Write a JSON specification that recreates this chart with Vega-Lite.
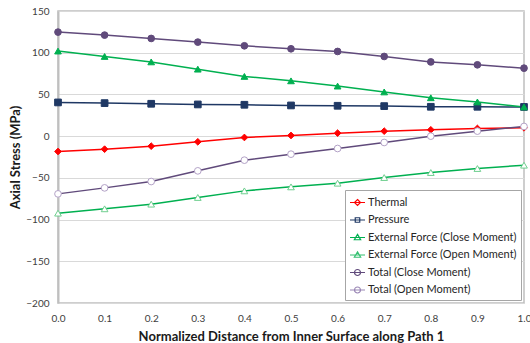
{
  "$schema": "https://vega.github.io/schema/vega-lite/v6.json",
  "width": 466,
  "height": 292,
  "autosize": {"type": "none"},
  "padding": {"left": 58, "top": 11, "right": 6, "bottom": 40},
  "background": "white",
  "config": {
    "font": "Lato",
    "view": {"stroke": "#BFBFBF", "strokeWidth": 1.5},
    "axis": {"labelFont": "Lato", "titleFont": "Lato", "labelColor": "#404040", "titleColor": "#1a1a1a"}
  },
  "data": {
    "values": [
      {"x": 0.0, "series": "Thermal", "y": -18.4},
      {"x": 0.1, "series": "Thermal", "y": -15.6},
      {"x": 0.2, "series": "Thermal", "y": -12.0},
      {"x": 0.3, "series": "Thermal", "y": -6.8},
      {"x": 0.4, "series": "Thermal", "y": -1.6},
      {"x": 0.5, "series": "Thermal", "y": 0.8},
      {"x": 0.6, "series": "Thermal", "y": 3.6},
      {"x": 0.7, "series": "Thermal", "y": 6.0},
      {"x": 0.8, "series": "Thermal", "y": 7.6},
      {"x": 0.9, "series": "Thermal", "y": 9.2},
      {"x": 1.0, "series": "Thermal", "y": 10.0},
      {"x": 0.0, "series": "Pressure", "y": 40.4},
      {"x": 0.1, "series": "Pressure", "y": 39.6},
      {"x": 0.2, "series": "Pressure", "y": 38.8},
      {"x": 0.3, "series": "Pressure", "y": 38.0},
      {"x": 0.4, "series": "Pressure", "y": 37.6},
      {"x": 0.5, "series": "Pressure", "y": 36.8},
      {"x": 0.6, "series": "Pressure", "y": 36.4},
      {"x": 0.7, "series": "Pressure", "y": 36.0},
      {"x": 0.8, "series": "Pressure", "y": 35.2},
      {"x": 0.9, "series": "Pressure", "y": 35.2},
      {"x": 1.0, "series": "Pressure", "y": 35.0},
      {"x": 0.0, "series": "External Force (Close Moment)", "y": 102.0},
      {"x": 0.1, "series": "External Force (Close Moment)", "y": 95.5},
      {"x": 0.2, "series": "External Force (Close Moment)", "y": 89.0},
      {"x": 0.3, "series": "External Force (Close Moment)", "y": 80.3},
      {"x": 0.4, "series": "External Force (Close Moment)", "y": 71.6},
      {"x": 0.5, "series": "External Force (Close Moment)", "y": 66.3},
      {"x": 0.6, "series": "External Force (Close Moment)", "y": 60.0},
      {"x": 0.7, "series": "External Force (Close Moment)", "y": 53.0},
      {"x": 0.8, "series": "External Force (Close Moment)", "y": 46.0},
      {"x": 0.9, "series": "External Force (Close Moment)", "y": 41.0},
      {"x": 1.0, "series": "External Force (Close Moment)", "y": 35.0},
      {"x": 0.0, "series": "External Force (Open Moment)", "y": -92.3},
      {"x": 0.1, "series": "External Force (Open Moment)", "y": -87.1},
      {"x": 0.2, "series": "External Force (Open Moment)", "y": -81.5},
      {"x": 0.3, "series": "External Force (Open Moment)", "y": -73.5},
      {"x": 0.4, "series": "External Force (Open Moment)", "y": -65.6},
      {"x": 0.5, "series": "External Force (Open Moment)", "y": -60.8},
      {"x": 0.6, "series": "External Force (Open Moment)", "y": -56.4},
      {"x": 0.7, "series": "External Force (Open Moment)", "y": -49.6},
      {"x": 0.8, "series": "External Force (Open Moment)", "y": -43.6},
      {"x": 0.9, "series": "External Force (Open Moment)", "y": -38.8},
      {"x": 1.0, "series": "External Force (Open Moment)", "y": -34.8},
      {"x": 0.0, "series": "Total (Close Moment)", "y": 124.7},
      {"x": 0.1, "series": "Total (Close Moment)", "y": 121.1},
      {"x": 0.2, "series": "Total (Close Moment)", "y": 117.1},
      {"x": 0.3, "series": "Total (Close Moment)", "y": 112.7},
      {"x": 0.4, "series": "Total (Close Moment)", "y": 108.3},
      {"x": 0.5, "series": "Total (Close Moment)", "y": 104.7},
      {"x": 0.6, "series": "Total (Close Moment)", "y": 101.5},
      {"x": 0.7, "series": "Total (Close Moment)", "y": 95.5},
      {"x": 0.8, "series": "Total (Close Moment)", "y": 89.0},
      {"x": 0.9, "series": "Total (Close Moment)", "y": 85.5},
      {"x": 1.0, "series": "Total (Close Moment)", "y": 81.5},
      {"x": 0.0, "series": "Total (Open Moment)", "y": -69.2},
      {"x": 0.1, "series": "Total (Open Moment)", "y": -62.0},
      {"x": 0.2, "series": "Total (Open Moment)", "y": -54.4},
      {"x": 0.3, "series": "Total (Open Moment)", "y": -41.6},
      {"x": 0.4, "series": "Total (Open Moment)", "y": -28.8},
      {"x": 0.5, "series": "Total (Open Moment)", "y": -21.6},
      {"x": 0.6, "series": "Total (Open Moment)", "y": -14.8},
      {"x": 0.7, "series": "Total (Open Moment)", "y": -7.6},
      {"x": 0.8, "series": "Total (Open Moment)", "y": 0.0},
      {"x": 0.9, "series": "Total (Open Moment)", "y": 6.0},
      {"x": 1.0, "series": "Total (Open Moment)", "y": 11.6}
    ]
  },
  "encoding": {
    "x": {
      "field": "x", "type": "quantitative",
      "scale": {"domain": [0, 1], "nice": false},
      "axis": {
        "title": "Normalized Distance from Inner Surface along Path 1",
        "values": [0, 0.1, 0.2, 0.3, 0.4, 0.5, 0.6, 0.7, 0.8, 0.9, 1.0],
        "format": ".1f", "grid": false, "ticks": false, "domain": false,
        "labelFlush": false, "labelOverlap": false,
        "labelFontSize": 10, "labelPadding": 10,
        "titleFontSize": 13, "titleFontWeight": "bold", "titlePadding": 7
      }
    },
    "y": {
      "field": "y", "type": "quantitative",
      "scale": {"domain": [-200, 150], "nice": false},
      "axis": {
        "title": "Axial Stress (MPa)",
        "values": [-200, -150, -100, -50, 0, 50, 100, 150],
        "grid": true, "gridColor": "#D9D9D9", "gridWidth": 1,
        "ticks": false, "domain": true, "domainColor": "#BFBFBF", "domainWidth": 2,
        "labelFontSize": 10, "labelPadding": 9,
        "titleFontSize": 13, "titleFontWeight": "bold", "titlePadding": 3
      }
    }
  },
  "layer": [
    {
      "mark": {"type": "line", "strokeWidth": 1.5},
      "encoding": {
        "color": {
          "field": "series", "type": "nominal", "legend": null,
          "scale": {
            "domain": ["Thermal", "Pressure", "External Force (Close Moment)", "External Force (Open Moment)", "Total (Close Moment)", "Total (Open Moment)"],
            "range": ["#FF0000", "#1F3864", "#00B050", "#00B050", "#604A7B", "#604A7B"]
          }
        }
      }
    },
    {
      "mark": {"type": "point", "filled": true, "size": 45, "strokeWidth": 1, "opacity": 1},
      "encoding": {
        "shape": {
          "field": "series", "type": "nominal", "legend": null,
          "scale": {
            "domain": ["Thermal", "Pressure", "External Force (Close Moment)", "External Force (Open Moment)", "Total (Close Moment)", "Total (Open Moment)"],
            "range": ["diamond", "square", "triangle-up", "triangle-up", "circle", "circle"]
          }
        },
        "fill": {
          "field": "series", "type": "nominal", "legend": null,
          "scale": {
            "domain": ["Thermal", "Pressure", "External Force (Close Moment)", "External Force (Open Moment)", "Total (Close Moment)", "Total (Open Moment)"],
            "range": ["#FF0000", "#1F3864", "#00B050", "#FFFFFF", "#604A7B", "#FFFFFF"]
          }
        },
        "stroke": {
          "field": "series", "type": "nominal", "legend": null,
          "scale": {
            "domain": ["Thermal", "Pressure", "External Force (Close Moment)", "External Force (Open Moment)", "Total (Close Moment)", "Total (Open Moment)"],
            "range": ["#FF0000", "#1F3864", "#00B050", "#6FCF8F", "#604A7B", "#B3A2C7"]
          }
        }
      }
    },
    {
      "mark": {"type": "point", "filled": true, "size": 225, "strokeWidth": 1.2, "opacity": 0},
      "encoding": {
        "shape": {
          "field": "series", "type": "nominal", "title": null,
          "scale": {
            "domain": ["Thermal", "Pressure", "External Force (Close Moment)", "External Force (Open Moment)", "Total (Close Moment)", "Total (Open Moment)"],
            "range": [
              "M-1,0H1M0,-0.4L0.4,0L0,0.4L-0.4,0Z",
              "M-1,0H1M-0.3,-0.3H0.3V0.3H-0.3Z",
              "M-1,0H1M0,-0.42L0.42,0.3L-0.42,0.3Z",
              "M-1,0H1M0,-0.42L0.42,0.3L-0.42,0.3Z",
              "M-1,0H1M0.4,0A0.4,0.4,0,1,1,-0.4,0A0.4,0.4,0,1,1,0.4,0Z",
              "M-1,0H1M0.4,0A0.4,0.4,0,1,1,-0.4,0A0.4,0.4,0,1,1,0.4,0Z"
            ]
          },
          "legend": {
            "orient": "bottom-right", "offset": 3,
            "strokeColor": "#A6A6A6", "fillColor": "white", "padding": 4,
            "labelFont": "Lato", "labelFontSize": 11, "labelColor": "#262626",
            "rowPadding": 3.5, "labelOffset": 2, "symbolSize": 225, "symbolStrokeWidth": 1.2,
            "labelLimit": 300
          }
        },
        "fill": {
          "field": "series", "type": "nominal", "title": null,
          "scale": {
            "domain": ["Thermal", "Pressure", "External Force (Close Moment)", "External Force (Open Moment)", "Total (Close Moment)", "Total (Open Moment)"],
            "range": ["#FF0000", "#1F3864", "#00B050", "#FFFFFF", "#604A7B", "#FFFFFF"]
          }
        },
        "stroke": {
          "field": "series", "type": "nominal", "title": null,
          "scale": {
            "domain": ["Thermal", "Pressure", "External Force (Close Moment)", "External Force (Open Moment)", "Total (Close Moment)", "Total (Open Moment)"],
            "range": ["#FF0000", "#1F3864", "#00B050", "#33C070", "#604A7B", "#9A87B5"]
          }
        }
      }
    }
  ],
  "resolve": {"scale": {"color": "independent", "shape": "independent", "fill": "independent", "stroke": "independent"}}
}
